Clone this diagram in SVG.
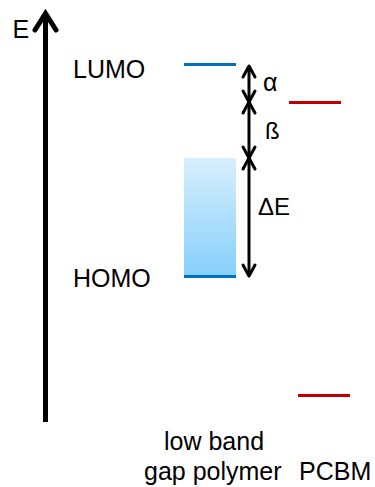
<svg xmlns="http://www.w3.org/2000/svg" width="375" height="487" viewBox="0 0 375 487">
<style>
text{font-family:"Liberation Sans",Arial,sans-serif;font-size:25px;fill:#000}
.dim{stroke:#000;stroke-width:3;fill:none}
.head{stroke:#000;stroke-width:3;fill:none;stroke-linecap:round;stroke-linejoin:round}
</style>
<defs>
<linearGradient id="band" x1="0" y1="0" x2="0" y2="1">
<stop offset="0" stop-color="#d8effd"/>
<stop offset="1" stop-color="#86cffc"/>
</linearGradient>
</defs>
<g id="axis">
<line x1="45.5" y1="422" x2="45.5" y2="14" stroke="#000" stroke-width="5"/>
<path d="M35,30 L45.5,13.5 L56,30" stroke="#000" stroke-width="5" fill="none" stroke-linecap="round" stroke-linejoin="miter"/>
<text x="12.5" y="37.5" style="font-size:25px">E</text>
</g>
<g id="polymer">
<rect x="184" y="158" width="52" height="118" fill="url(#band)"/>
<line x1="184" y1="64.5" x2="236" y2="64.5" stroke="#0070c0" stroke-width="3"/>
<line x1="184" y1="276.5" x2="236" y2="276.5" stroke="#0070c0" stroke-width="3"/>
<text x="73" y="77.5">LUMO</text>
<text x="73" y="287">HOMO</text>
<text x="164" y="450">low band</text>
<text x="144" y="480">gap polymer</text>
</g>
<g id="pcbm">
<line x1="289" y1="102.5" x2="341" y2="102.5" stroke="#c00000" stroke-width="3"/>
<line x1="298" y1="395.5" x2="350" y2="395.5" stroke="#c00000" stroke-width="3"/>
<text x="299" y="480">PCBM</text>
</g>
<g id="connectors">
<line class="dim" x1="249" y1="66" x2="249" y2="276"/>
<path class="head" d="M243,77 L249,66 L255,77"/>
<path class="head" d="M243,91 L249,102 L255,91"/>
<path class="head" d="M243,113 L249,102 L255,113"/>
<path class="head" d="M243,147 L249,158 L255,147"/>
<path class="head" d="M243,169 L249,158 L255,169"/>
<path class="head" d="M243,265 L249,276 L255,265"/>
<text x="263" y="90.5">α</text>
<text x="265" y="138.5" style="font-size:24px">ß</text>
<text x="258" y="215" style="font-size:24px">ΔE</text>
</g>
</svg>
